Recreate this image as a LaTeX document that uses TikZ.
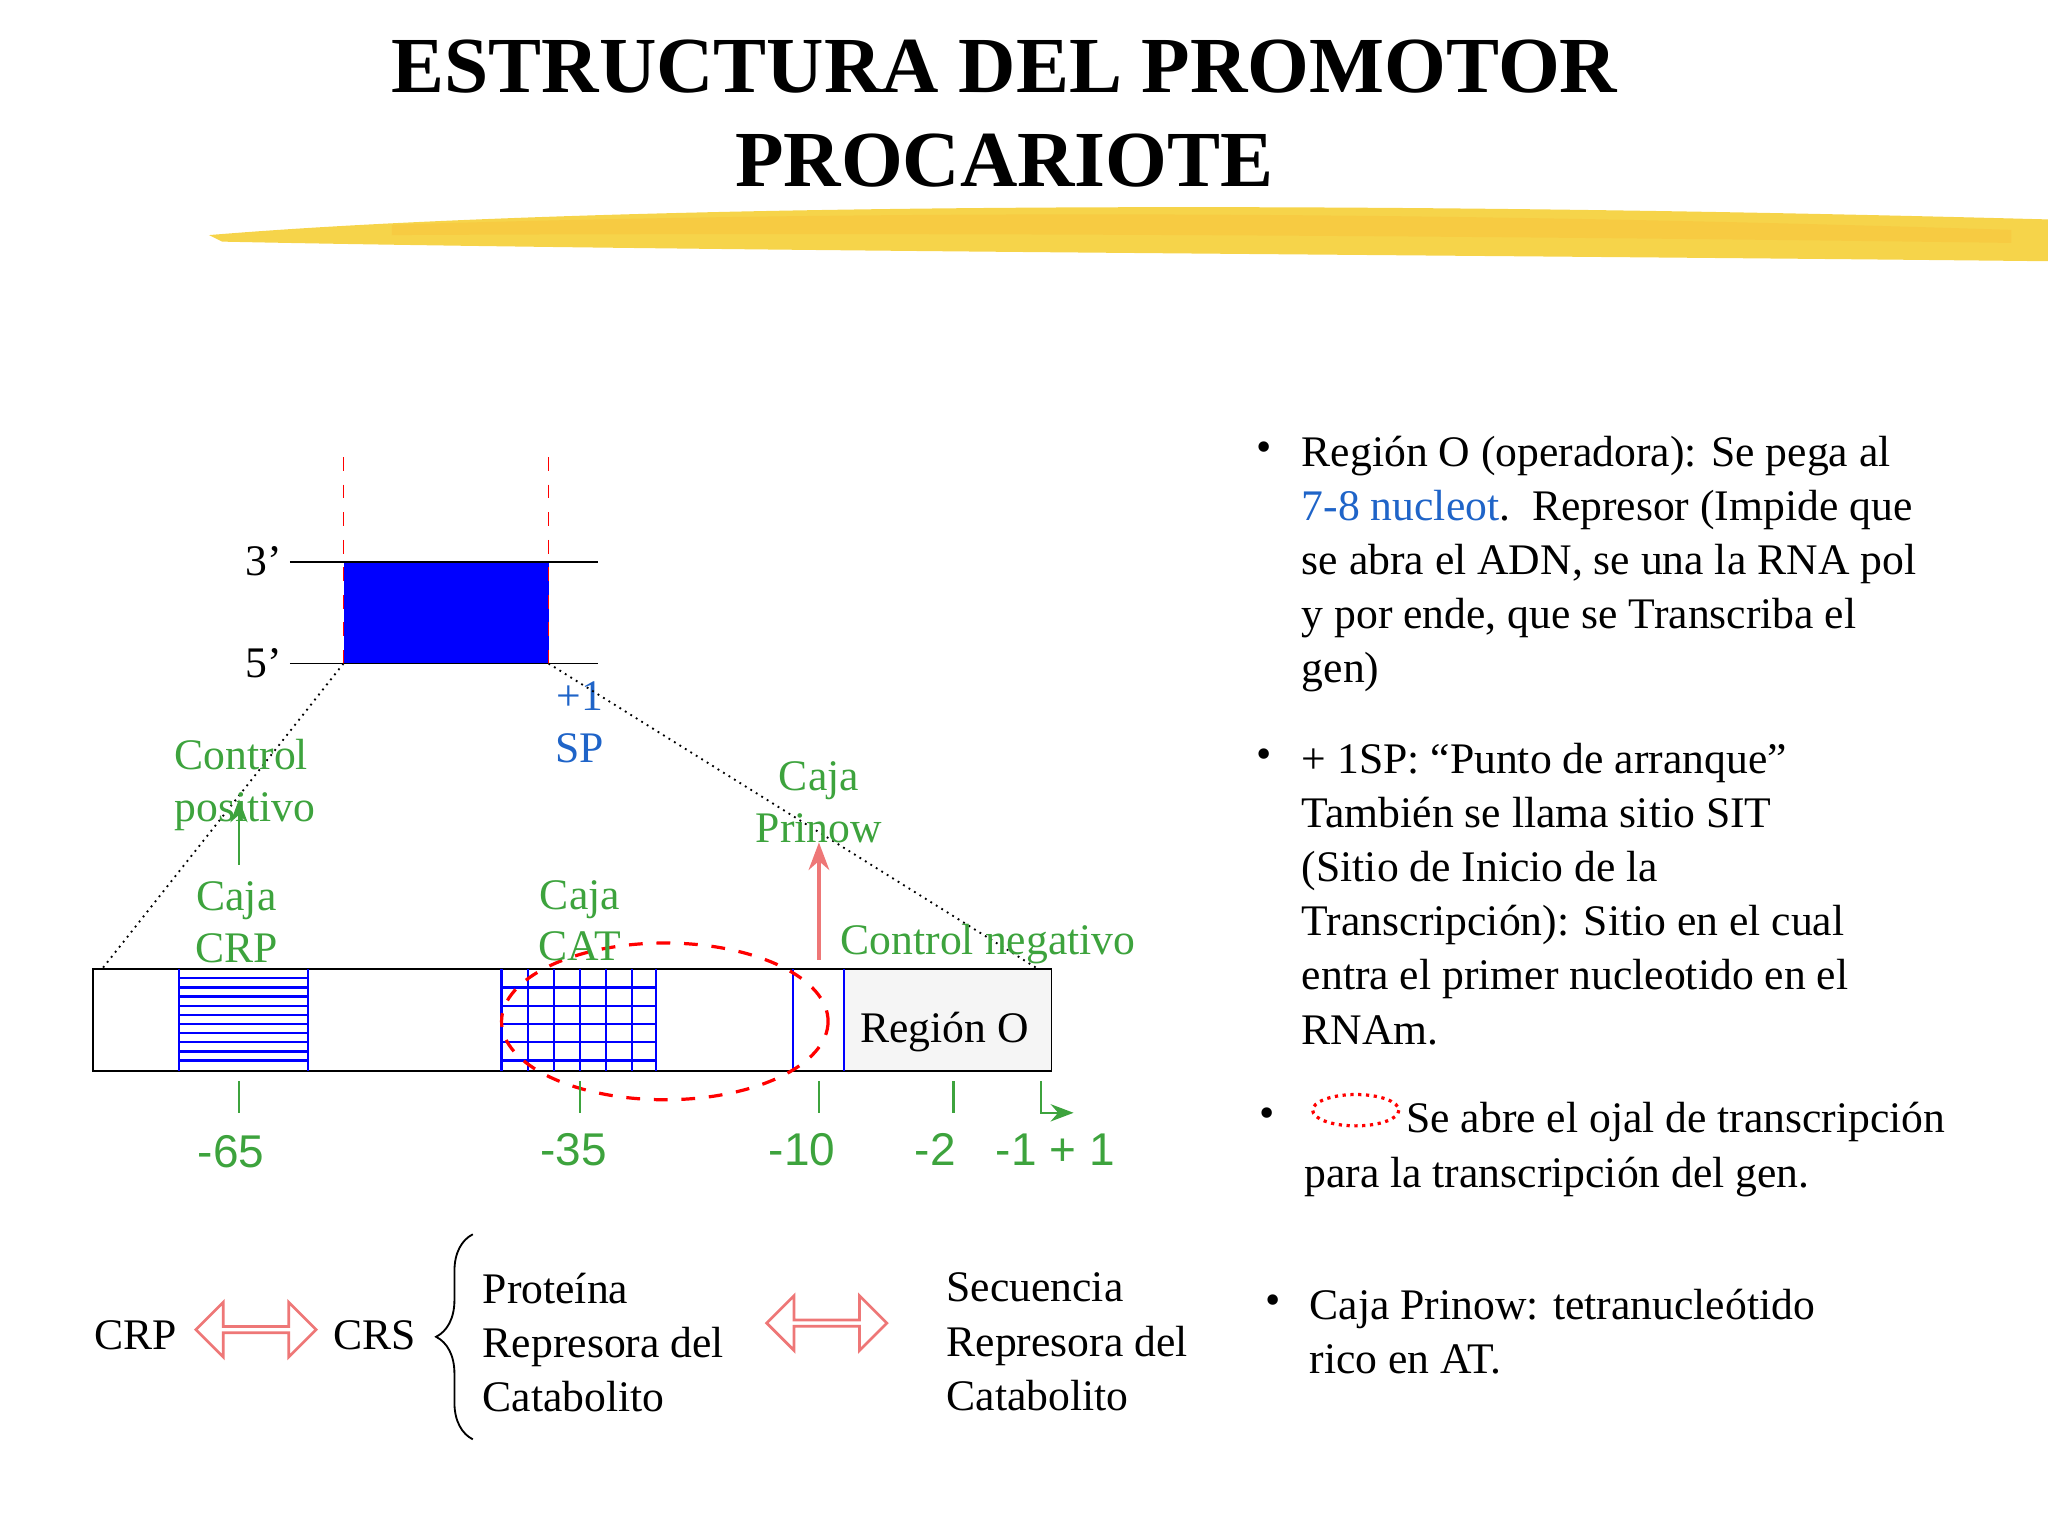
\documentclass[tikz,border=0pt]{standalone}
\usepackage{fontspec}
\setmainfont{Liberation Serif}
\newfontfamily\arialf{Liberation Sans}
\usetikzlibrary{shapes.arrows,decorations.pathreplacing,arrows.meta}
\definecolor{ggreen}{HTML}{3DA33D}
\definecolor{bblue}{HTML}{1F64C8}
\definecolor{yel}{HTML}{F6D44A}
\definecolor{pinkr}{HTML}{EE7777}
\tikzset{
 body/.style={font=\fontsize{9.5}{11.8}\selectfont,align=left,inner sep=0pt,anchor=north west},
 glab/.style={font=\fontsize{9.5}{11.3}\selectfont,text=ggreen,align=center,inner sep=0pt},
 num/.style={font=\arialf\fontsize{10}{12}\selectfont,text=ggreen,inner sep=0pt},
 tick/.style={ggreen,line width=0.5pt},
 hollow/.style={double arrow,draw=pinkr,fill=white,minimum height=0.92cm,minimum width=0.42cm,double arrow head extend=0.08cm,inner sep=0pt,line width=0.6pt},
}
\begin{document}
\begin{tikzpicture}[x=0.01cm,y=-0.01cm]
\useasboundingbox (0,0) rectangle (1568,1176);
% brush stroke
\fill[yel] (160,180) .. controls (400,160) and (900,150) .. (1568,168) -- (1568,200) .. controls (1100,195) and (500,192) .. (170,185) -- cycle;
\fill[yel!80!orange,opacity=0.5] (300,172) .. controls (700,160) and (1100,162) .. (1540,176) -- (1540,186) .. controls (1100,180) and (700,178) .. (300,180) -- cycle;
% title
\node[font=\bfseries\fontsize{17.3}{20.5}\selectfont,align=center,inner sep=0pt] (title) at (769,87) {ESTRUCTURA DEL PROMOTOR\\PROCARIOTE};
% small box
\fill[blue] (263,430) rectangle (420,508);
\node[inner sep=0pt] (bx) at (341,469) {};
\draw (222,430) coordinate (l3a) -- (458,430) coordinate (l3b);
\draw (222,508) coordinate (l5a) -- (458,508) coordinate (l5b);
\draw[red,dashed] (263,350) -- (263,508);
\draw[red,dashed] (420,350) -- (420,508);
\node[font=\fontsize{9.5}{11}\selectfont,anchor=east,inner sep=1pt] (t3) at (220,430) {3’};
\node[font=\fontsize{9.5}{11}\selectfont,anchor=east,inner sep=1pt] (t5) at (220,508) {5’};
\node[font=\fontsize{9.5}{11.3}\selectfont,text=bblue,align=center,inner sep=0pt] (sp) at (444,553) {+1\\SP};
% main bar
\coordinate (bl) at (71,742); \coordinate (br) at (805,820);
\fill[black!4] (646,742) rectangle (805,820);
\draw (bl) rectangle (br);
\draw[densely dotted] (263,508) -- (78,742);
\draw[densely dotted] (420,508) -- (795,742);
\draw[blue] (607,742) -- (607,820);
\draw[blue] (646,742) -- (646,820);
\node[font=\fontsize{9.5}{11}\selectfont,inner sep=0pt] (regO) at (723,790) {Región O};
% CRP hatch
\draw[blue] (137,742) -- (137,820) (236,742) -- (236,820);
\foreach \y in {749,756,...,815} \draw[blue,line width=0.5pt] (137,\y) -- (236,\y);
% CAT grid
\foreach \x in {384,404,424,444,464,484,502} \draw[blue,line width=0.5pt] (\x,742) -- (\x,820);
\foreach \y in {756,770,784,798,812} \draw[blue,line width=0.5pt] (384,\y) -- (502,\y);
% ellipse
\draw[red,dashed,line width=0.7pt] (509,782) ellipse [x radius=125,y radius=60];
% ticks
\foreach \x in {183,444,627,730} \draw[tick] (\x,828) -- (\x,852);
\draw[tick,-{Stealth[length=5pt]}] (797,828) -- (797,852) -- (822,852);
\node[num] (n65) at (177,882) {-65};
\node[num] (n35) at (439,880) {-35};
\node[num] (n10) at (614,880) {-10};
\node[num] (n2) at (716,880) {-2};
\node[num] (n1) at (808,880) {-1 + 1};
% green labels
\node[glab,align=left,anchor=west] (cp) at (133,601) {Control\\positivo};
\node[glab] (ccrp) at (181,706) {Caja\\CRP};
\node[glab] (ccat) at (444,705) {Caja\\CAT};
\node[glab] (cpri) at (627,614) {Caja\\Prinow};
\node[glab,anchor=west] (cneg) at (643,723) {Control negativo};
\draw[ggreen,-{Stealth[length=5pt]}] (183,662) -- (183,612);
\draw[pinkr,line width=0.7pt,-{Stealth[length=6pt]}] (627,735) -- (627,645);
% bottom
\node[font=\fontsize{9.5}{11}\selectfont,inner sep=0pt] (crp) at (104,1022) {CRP};
\node[hollow] (a1) at (196,1018) {};
\node[font=\fontsize{9.5}{11}\selectfont,inner sep=0pt] (crs) at (287,1022) {CRS};
\draw[decorate,decoration={brace,amplitude=8pt}] (362,1102) -- (362,945);
\node[body] (prot) at (369,974) {Proteína\\Represora del\\Catabolito};
\node[hollow] (a2) at (633,1013) {};
\node[body] (sec) at (724,974) {Secuencia\\Represora del\\Catabolito};
% right bullets
\node[font=\fontsize{9.5}{11}\selectfont,inner sep=0pt] (b1) at (968,346) {•};
\node[body] (t1) at (996,333) {Región O (operadora): Se pega al\\\textcolor{bblue}{7-8 nucleot}.\ \ Represor (Impide que\\se abra el ADN, se una la RNA pol\\y por ende, que se Transcriba el\\gen)};
\node[font=\fontsize{9.5}{11}\selectfont,inner sep=0pt] (b2) at (968,581) {•};
\node[body] (t2) at (996,568) {+ 1SP: “Punto de arranque”\\También se llama sitio SIT\\(Sitio de Inicio de la\\Transcripción): Sitio en el cual\\entra el primer nucleotido en el\\RNAm.};
\node[font=\fontsize{9.5}{11}\selectfont,inner sep=0pt] (b3) at (970,856) {•};
\draw[red,densely dotted,line width=0.7pt] (1038,850) ellipse [x radius=33,y radius=12];
\node[body] (t3b) at (1076,843) {Se abre el ojal de transcripción};
\node[body] (t3c) at (998,885) {para la transcripción del gen.};
\node[font=\fontsize{9.5}{11}\selectfont,inner sep=0pt] (b4) at (975,999) {•};
\node[body] (t4) at (1002,986) {Caja Prinow: tetranucleótido\\rico en AT.};
\end{tikzpicture}
\end{document}
